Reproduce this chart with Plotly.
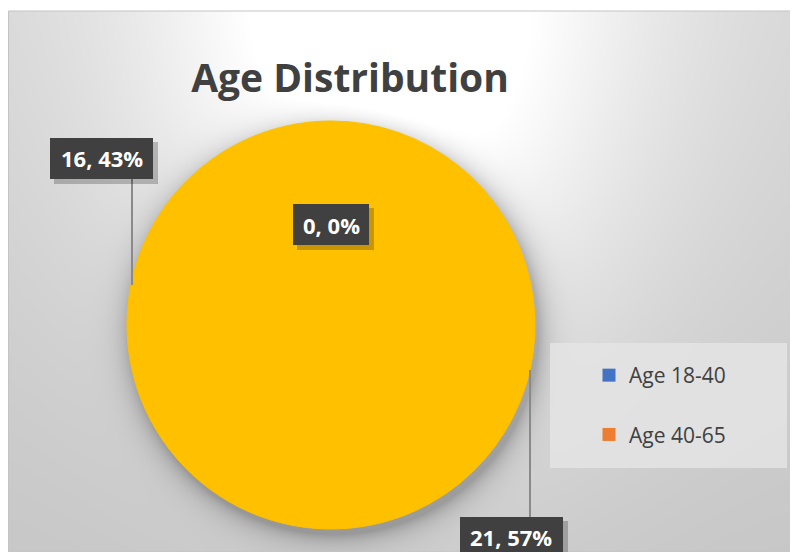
import base64
import struct
import zlib

import numpy as np
import plotly.graph_objects as go

W, H = 790, 544          # page is 798x552 incl. the 8px body margin
OX, OY = 8, 8            # body margin offset (reference pixel coords -> figure)

# ---- data ----
categories = ["Age 18-40", "Age 40-65", ""]
values = [16, 21, 0]
legend_names = ["Age 18-40", "Age 40-65"]
legend_colors = ["#4472C4", "#ED7D31"]
pie_color = "#FFC000"
title_text = "Age Distribution"

total = sum(values)
label_texts = [f"{v}, {round(100 * v / total)}%" for v in values]


def px(x):
    return (x - OX) / W


def py(y):
    return 1 - (y - OY) / H


# ---- background: soft grey gradient with pie drop shadow (styling only) ----
def png_data_uri(gray):
    h, w = gray.shape
    raw = b"".join(b"\x00" + gray[r].tobytes() for r in range(h))

    def chunk(tag, data):
        c = struct.pack(">I", len(data)) + tag + data
        return c + struct.pack(">I", zlib.crc32(tag + data) & 0xFFFFFFFF)

    png = (b"\x89PNG\r\n\x1a\n"
           + chunk(b"IHDR", struct.pack(">IIBBBBB", w, h, 8, 0, 0, 0, 0))
           + chunk(b"IDAT", zlib.compress(raw, 9))
           + chunk(b"IEND", b""))
    return "data:image/png;base64," + base64.b64encode(png).decode()


bg_top = 11
yy, xx = np.mgrid[bg_top:552, 8:798].astype(float)
g = (199 + 14 * (1 - yy / 552)
     + 58 * np.exp(-((xx - 390) / 255) ** 2 - ((yy - 30) / 370) ** 2))
pcx, pcy, r = 331, 325, 204
d = np.hypot(xx - (pcx + 3), yy - (pcy + 5)) - r
g -= 55 * np.exp(-np.clip(d, 0, None) / 12)
bg_uri = png_data_uri(np.clip(g, 0, 255).astype(np.uint8))

fig = go.Figure()

fig.add_trace(go.Pie(
    labels=categories,
    values=values,
    marker=dict(colors=[pie_color] * len(values), line=dict(width=1, color=pie_color)),
    textinfo="none",
    sort=False,
    direction="clockwise",
    rotation=0,
    showlegend=False,
    hoverinfo="label+value+percent",
    domain=dict(x=[px(127), px(535)], y=[py(529), py(121)]),
))

for name, col in zip(legend_names, legend_colors):
    fig.add_trace(go.Scatter(
        x=[None], y=[None], mode="markers", name=name,
        marker=dict(symbol="square", size=13, color=col),
        legendgroup=name,
    ))

shapes = []
# chart area border
shapes.append(dict(type="rect", xref="paper", yref="paper",
                   x0=px(8.5), x1=1, y0=0, y1=py(11),
                   fillcolor="rgba(0,0,0,0)", line=dict(color="#c4c4c4", width=1), layer="below"))
# legend box
shapes.append(dict(type="rect", xref="paper", yref="paper",
                   x0=px(550), x1=px(787), y0=py(468), y1=py(343),
                   fillcolor="rgba(228,228,228,0.85)", line=dict(width=0), layer="below"))

# leader lines
shapes.append(dict(type="line", xref="paper", yref="paper",
                   x0=px(132), x1=px(132), y0=py(285), y1=py(179),
                   line=dict(color="#8a8a8a", width=2)))
shapes.append(dict(type="line", xref="paper", yref="paper",
                   x0=px(530), x1=px(530), y0=py(517), y1=py(370),
                   line=dict(color="#8a8a8a", width=2)))

# label boxes, in the same order as values
box_pos = [(50, 138, 153, 179), (460, 517, 563, 558), (293, 204, 369, 245)]
annotations = []
for (x0, y0, x1, y1), txt in zip(box_pos, label_texts):
    shapes.append(dict(type="rect", xref="paper", yref="paper",
                       x0=px(x0 + 4), x1=px(x1 + 5), y0=py(y1 + 5), y1=py(y0 + 4),
                       fillcolor="rgba(0,0,0,0.22)", line=dict(width=0)))
    shapes.append(dict(type="rect", xref="paper", yref="paper",
                       x0=px(x0), x1=px(x1), y0=py(y1), y1=py(y0),
                       fillcolor="#404040", line=dict(width=0)))
    ty = (y0 + y1) / 2 if y1 <= 552 else (y0 + 552) / 2 + 2
    annotations.append(dict(
        xref="paper", yref="paper", x=px((x0 + x1) / 2), y=py(ty),
        text=f"<b>{txt}</b>", showarrow=False, xanchor="center", yanchor="middle",
        font=dict(family="Open Sans", size=22, color="white"),
    ))

fig.update_layout(
    width=W, height=H,
    margin=dict(l=0, r=0, t=0, b=0),
    paper_bgcolor="white",
    plot_bgcolor="rgba(0,0,0,0)",
    images=[dict(source=bg_uri, xref="paper", yref="paper",
                 x=0, y=py(bg_top), sizex=1, sizey=py(bg_top),
                 xanchor="left", yanchor="top", sizing="stretch", layer="below")],
    title=dict(text=f"<b>{title_text}</b>", x=px(350), xanchor="center",
               y=py(78), yanchor="middle",
               font=dict(family="Open Sans", size=39, color="#404040")),
    xaxis=dict(visible=False),
    yaxis=dict(visible=False),
    legend=dict(x=px(589), y=py(355), xanchor="left", yanchor="top",
                bgcolor="rgba(0,0,0,0)", traceorder="grouped", tracegroupgap=29,
                font=dict(family="Open Sans", size=21, color="#404040")),
    shapes=shapes,
    annotations=annotations,
)

fig.write_html("out.html")
